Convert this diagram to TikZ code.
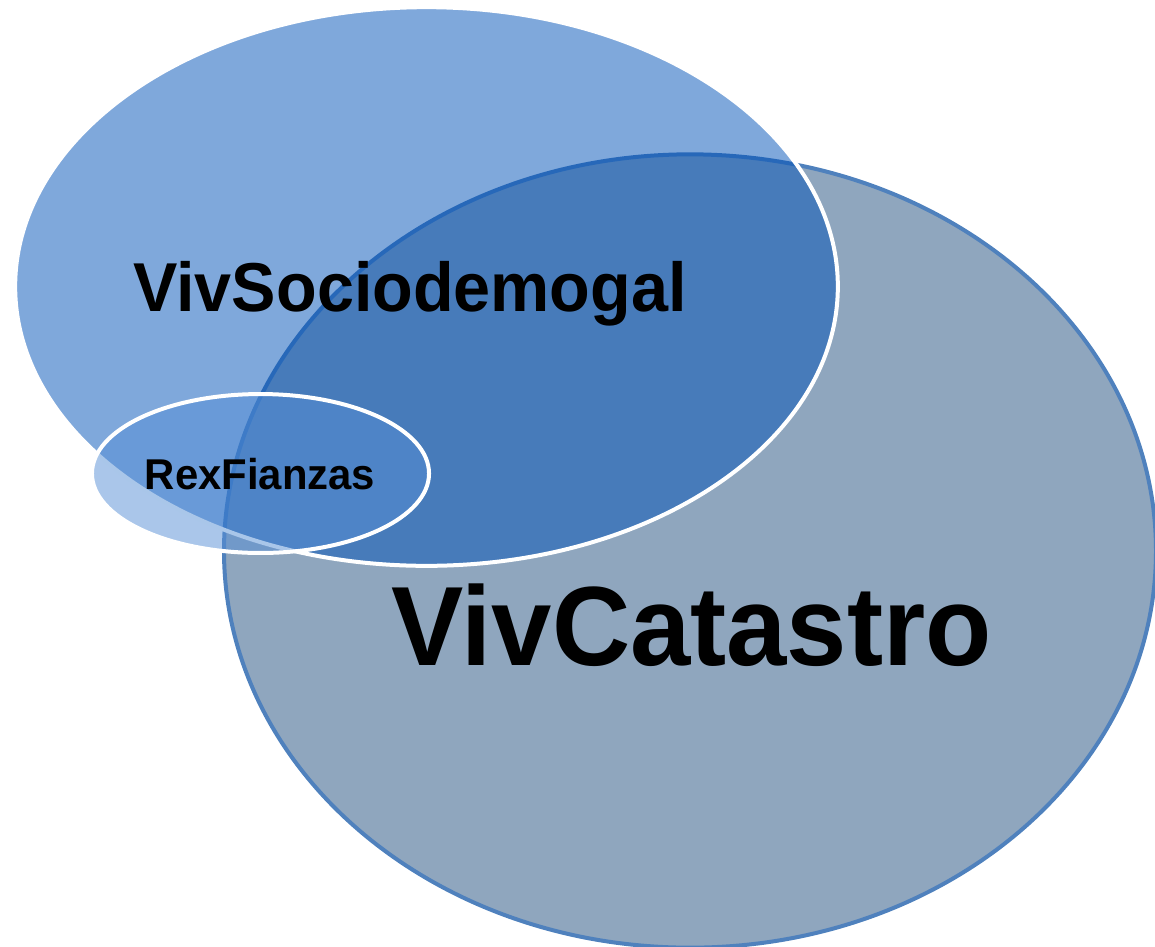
\documentclass[tikz,border=0pt]{standalone}
\usepackage{graphicx}
\usepackage{fontspec}
\setmainfont{Liberation Sans}
\definecolor{catfill}{RGB}{143,166,190}
\definecolor{catline}{RGB}{79,129,189}
\definecolor{socfill}{RGB}{0,81,183}
\definecolor{rexfill}{RGB}{85,142,213}
\tikzset{
  setcat/.style={fill=catfill, draw=catline, line width=3pt},
  setsoc/.style={fill=socfill, fill opacity=0.5, draw=white, draw opacity=1, line width=3pt},
  setrex/.style={fill=rexfill, fill opacity=0.5, draw=white, draw opacity=1, line width=3pt},
  lbl/.style={anchor=base, inner sep=0pt, text=black, font=\bfseries}
}
\begin{document}
\begin{tikzpicture}[x=0.75pt, y=-0.75pt]
\useasboundingbox (0,0) rectangle (1155,946);
% VivCatastro
\path[setcat] (690,551) ellipse [x radius=349.5pt, y radius=297.5pt];
% VivSociodemogal
\path[setsoc] (426.5,286.5) ellipse [x radius=308.5pt, y radius=209.5pt];
% RexFianzas
\path[setrex] (260.5,473.5) ellipse [x radius=126.4pt, y radius=59.6pt];
% labels
\node[lbl, font=\bfseries\fontsize{49.9pt}{60pt}\selectfont] (soc) at (410,311) {\scalebox{1}[1.04]{VivSociodemogal}};
\node[lbl, font=\bfseries\fontsize{81.3pt}{96pt}\selectfont] (cat) at (691.5,665) {\scalebox{1}[1.04]{VivCatastro}};
\node[lbl, font=\bfseries\fontsize{31.4pt}{38pt}\selectfont] (rex) at (260,489) {\scalebox{1}[1.03]{RexFianzas}};
\end{tikzpicture}
\end{document}
